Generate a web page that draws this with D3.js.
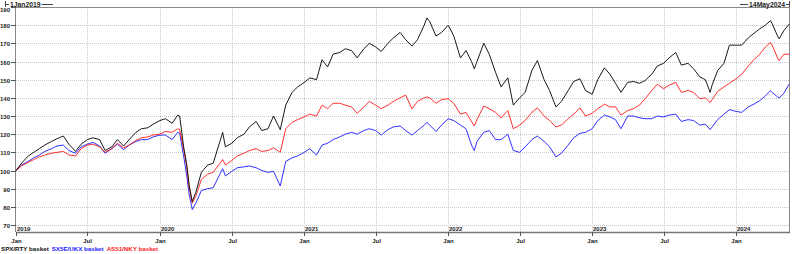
<!DOCTYPE html>
<html><head><meta charset="utf-8">
<script src="https://cdn.jsdelivr.net/npm/d3@7"></script>
<style>
body{margin:0;background:#fff}
svg{display:block}
text{font-family:"Liberation Sans",Arial,sans-serif;font-weight:bold}
</style>
</head><body><svg id="c" width="798" height="254"></svg>
<script>
const dates = [
"2019-01-01","2019-01-15","2019-02-01","2019-02-15","2019-03-01","2019-03-15","2019-04-01","2019-04-15","2019-05-01","2019-05-15","2019-06-01","2019-06-15",
"2019-07-01","2019-07-15","2019-08-01","2019-08-15","2019-09-01","2019-09-15","2019-10-01","2019-10-15","2019-11-01","2019-11-15","2019-12-01","2019-12-15",
"2020-01-01","2020-01-15","2020-02-01","2020-02-15","2020-02-20","2020-03-01","2020-03-09","2020-03-15","2020-03-23","2020-04-01","2020-04-15","2020-05-01","2020-05-15",
"2020-06-01","2020-06-08","2020-06-15","2020-07-01","2020-07-15","2020-08-01","2020-08-15","2020-09-01","2020-09-15","2020-10-01","2020-10-15","2020-11-01","2020-11-15","2020-12-01","2020-12-15",
"2021-01-01","2021-01-15","2021-02-01","2021-02-15","2021-03-01","2021-03-15","2021-04-01","2021-04-15","2021-05-01","2021-05-15","2021-06-01","2021-06-15",
"2021-07-01","2021-07-15","2021-08-01","2021-08-15","2021-09-01","2021-09-15","2021-10-01","2021-10-15","2021-11-01","2021-11-08","2021-11-15","2021-12-01","2021-12-15",
"2022-01-01","2022-01-15","2022-02-01","2022-02-15","2022-03-01","2022-03-08","2022-03-15","2022-04-01","2022-04-15","2022-05-01","2022-05-15","2022-06-01","2022-06-15",
"2022-07-01","2022-07-15","2022-08-01","2022-08-15","2022-09-01","2022-09-15","2022-10-01","2022-10-15","2022-11-01","2022-11-15","2022-12-01","2022-12-15",
"2023-01-01","2023-01-15","2023-02-01","2023-02-15","2023-03-01","2023-03-15","2023-04-01","2023-04-15","2023-05-01","2023-05-15","2023-06-01","2023-06-15",
"2023-07-01","2023-07-15","2023-08-01","2023-08-15","2023-09-01","2023-09-15","2023-10-01","2023-10-15","2023-10-27","2023-11-01","2023-11-15","2023-12-01","2023-12-15",
"2024-01-01","2024-01-15","2024-02-01","2024-02-15","2024-03-01","2024-03-15","2024-03-28","2024-04-01","2024-04-15","2024-04-19","2024-05-01","2024-05-14"
];
const spxRty = [
100,104,108,110,112,114,116,117.5,119,114.5,110.5,114.5,
117,118,117,111,113,117,113.5,117,121,123,123.5,125.5,
127.5,128.5,126,130.5,130,113,103,92,83,88,99,103,104,
116,121,113,115,118,120,124,127,122,123,130,122.5,136,143,146,
148.5,151,150,161,157,164,165,167,166,162,167,170,
168,165.5,170,173,176,172,168.5,172,180,184,182,174,176,
180,174,162,166,160,156,160,170,164,154,146,151,136,
140,143,155,160.5,150,144,135,138,144,149,150.5,144,
142,150,156.5,153,148,143,148.5,149,148,149.5,153,157.5,
159,162,165,158,159,156,151.5,150,143,147,155,159,169,
169,169,173,175.5,178,180,182.5,181,174,172.5,177,180.5
];
const sx5eUkx = [
100,103,105,107,108.5,110.5,112,113.5,114,111,109.5,113,
114.5,115.5,113.5,109.5,112,114.5,111.5,114,116,117,117,118.5,
119.5,119.5,117,121,120.5,108,97,87,78.5,82,89,90,90.5,
98,101,97,99.5,101.5,102,102.5,101.5,100,99,99.5,91.5,105,107,108,
110,112,108.5,114,115,117,118.5,120,121,120,122,123,
122,119.5,122.5,124,124.5,122,119.5,122,125,126.5,125,121.5,125,
128.5,127.5,125,123,114,111,116,121,122,117,117,120,111,
110,113,117,119,116,113,107.5,109.5,114,118,120.5,121,
123,127.5,130.5,129.5,128,123,130,130,129,128.5,128.5,130,
129.5,130.5,131,127,128,127.5,125,125.5,122.5,124,128,131,133.5,
132.5,132,135,136.5,138.5,141,144,143,140.5,140,142.5,147.5
];
const as51Nky = [
100,102.5,104.5,106,107.5,108.5,109.5,110,110.5,108.5,108,112,
114,114.5,113,110,112,115,112.5,114,116.5,118,118.5,119.5,
120,121.5,121,123,122.5,112,102,91,82,86,95,98,99,
104,106,103,105.5,108,109.5,111,112,110.5,111,112.5,110,123,126.5,128,
129.5,131,130,136,134,137,137,136,135,131.5,135,138,
136,134,136,138,140,141.5,134,138,140,140.5,140,137,139,
139.5,137,131,132,127,124.5,128,135.5,134,132,129,133,123,
125,127.5,132,134.5,130,127.5,124,125,128.5,131,134.5,130,
131.5,134,136.5,135,135,130.5,133,134,136,139.5,144,147.5,
145,147,148.5,143,144,143,139.5,140,137.5,139,143.5,146,148,
150.5,153,157.5,161,164,168,170.5,169,162,160.5,164,164
];
const seriesNames = ["SPX/RTY basket","SX5E/UKX basket","AS51/NKY basket"];
const seriesColors = ["#000000","#1a1aff","#ff1a1a"];
const yTicks = [70,80,90,100,110,120,130,140,150,160,170,180,190];
const startLabel = "1Jan2019", endLabel = "14May2024";

const parse = d3.utcParse("%Y-%m-%d");
const dts = dates.map(parse);
const svg = d3.select("#c");
const L = 16, R = 789, T = 7, B = 232;
const x = d3.scaleUtc().domain([parse("2019-01-01"), parse("2024-05-14")]).range([L, R]);
const y = d3.scaleLinear().domain([66.15, 190]).range([B, T]);

// grid
const monthTicks = d3.utcMonth.every(6).range(parse("2019-01-01"), parse("2024-05-14"));
svg.append("g").selectAll("line").data(monthTicks.filter(d=>+d>+parse("2019-01-01"))).join("line")
  .attr("x1",d=>Math.round(x(d))+0.5).attr("x2",d=>Math.round(x(d))+0.5).attr("y1",T).attr("y2",B)
  .attr("stroke","#c8c8c8").attr("stroke-width",1).attr("stroke-dasharray","1,1");
svg.append("g").selectAll("line").data(yTicks.filter(v=>v<190)).join("line")
  .attr("x1",L).attr("x2",R).attr("y1",d=>Math.round(y(d))+0.5).attr("y2",d=>Math.round(y(d))+0.5)
  .attr("stroke","#c8c8c8").attr("stroke-width",1).attr("stroke-dasharray","1,1");

// frame
svg.append("line").attr("x1",L).attr("x2",R).attr("y1",T+0.5).attr("y2",T+0.5).attr("stroke","#888");
svg.append("line").attr("x1",R+0.5).attr("x2",R+0.5).attr("y1",T).attr("y2",B).attr("stroke","#888");
svg.append("line").attr("x1",L-0.5).attr("x2",L-0.5).attr("y1",T).attr("y2",B).attr("stroke","#888");
svg.append("line").attr("x1",L).attr("x2",R+1).attr("y1",B+0.5).attr("y2",B+0.5).attr("stroke","#777").attr("stroke-width",1.5);

// y axis ticks & labels
const yg = svg.append("g");
yTicks.forEach(v=>{
  const yy = Math.round(y(v))+0.5;
  yg.append("line").attr("x1",11).attr("x2",L).attr("y1",yy).attr("y2",yy).attr("stroke","#555");
  yg.append("text").attr("x",10).attr("y",(v===190? yy+2.5 : yy)+2).attr("text-anchor","end")
    .attr("font-size",6).attr("fill","#222").text(v);
});

// x axis ticks & labels
const xg = svg.append("g");
monthTicks.forEach(d=>{
  const xx = Math.round(x(d))+0.5;
  xg.append("line").attr("x1",xx).attr("x2",xx).attr("y1",B).attr("y2",B+4).attr("stroke","#555");
  xg.append("text").attr("x",xx).attr("y",243).attr("text-anchor","middle").attr("font-size",6)
    .attr("fill","#222").text(d3.utcFormat("%b")(d));
  if (d.getUTCMonth()===0) {
    xg.append("text").attr("x",xx+0.5).attr("y",230.5).attr("font-size",6).attr("fill","#222")
      .text(d3.utcFormat("%Y")(d));
  }
});

// lines
const data = [spxRty, sx5eUkx, as51Nky];
const line = d3.line().x((d,i)=>x(dts[i])).y(d=>y(d));
[1,2,0].forEach(k=>{
  svg.append("path").datum(data[k]).attr("d",line).attr("fill","none")
    .attr("stroke",seriesColors[k]).attr("stroke-width",0.9).attr("stroke-linejoin","round");
});

// header
const hd = svg.append("g");
hd.append("line").attr("x1",5.5).attr("x2",5.5).attr("y1",1).attr("y2",7).attr("stroke","#444");
hd.append("line").attr("x1",5.5).attr("x2",9).attr("y1",4.5).attr("y2",4.5).attr("stroke","#444");
const t1 = hd.append("text").attr("x",10).attr("y",7).attr("font-size",6.8).attr("fill","#222").text(startLabel);
const w1 = t1.node().getComputedTextLength();
hd.append("line").attr("x1",10+w1+1).attr("x2",53).attr("y1",4.5).attr("y2",4.5).attr("stroke","#444");
hd.append("line").attr("x1",R+0.5).attr("x2",R+0.5).attr("y1",1).attr("y2",7).attr("stroke","#444");
hd.append("line").attr("x1",R-3).attr("x2",R+0.5).attr("y1",4.5).attr("y2",4.5).attr("stroke","#444");
const t2 = hd.append("text").attr("x",R-4).attr("y",7).attr("text-anchor","end").attr("font-size",6.8).attr("fill","#222").text(endLabel);
const w2 = t2.node().getComputedTextLength();
hd.append("line").attr("x1",740).attr("x2",R-4-w2-1).attr("y1",4.5).attr("y2",4.5).attr("stroke","#444");

// legend
let lx = 1;
seriesNames.forEach((n,k)=>{
  const t = svg.append("text").attr("x",lx).attr("y",251).attr("font-size",6.2).attr("fill",seriesColors[k]==="#000000"?"#111":seriesColors[k]).text(n);
  lx += t.node().getComputedTextLength() + 3;
});
</script>
</body></html>
